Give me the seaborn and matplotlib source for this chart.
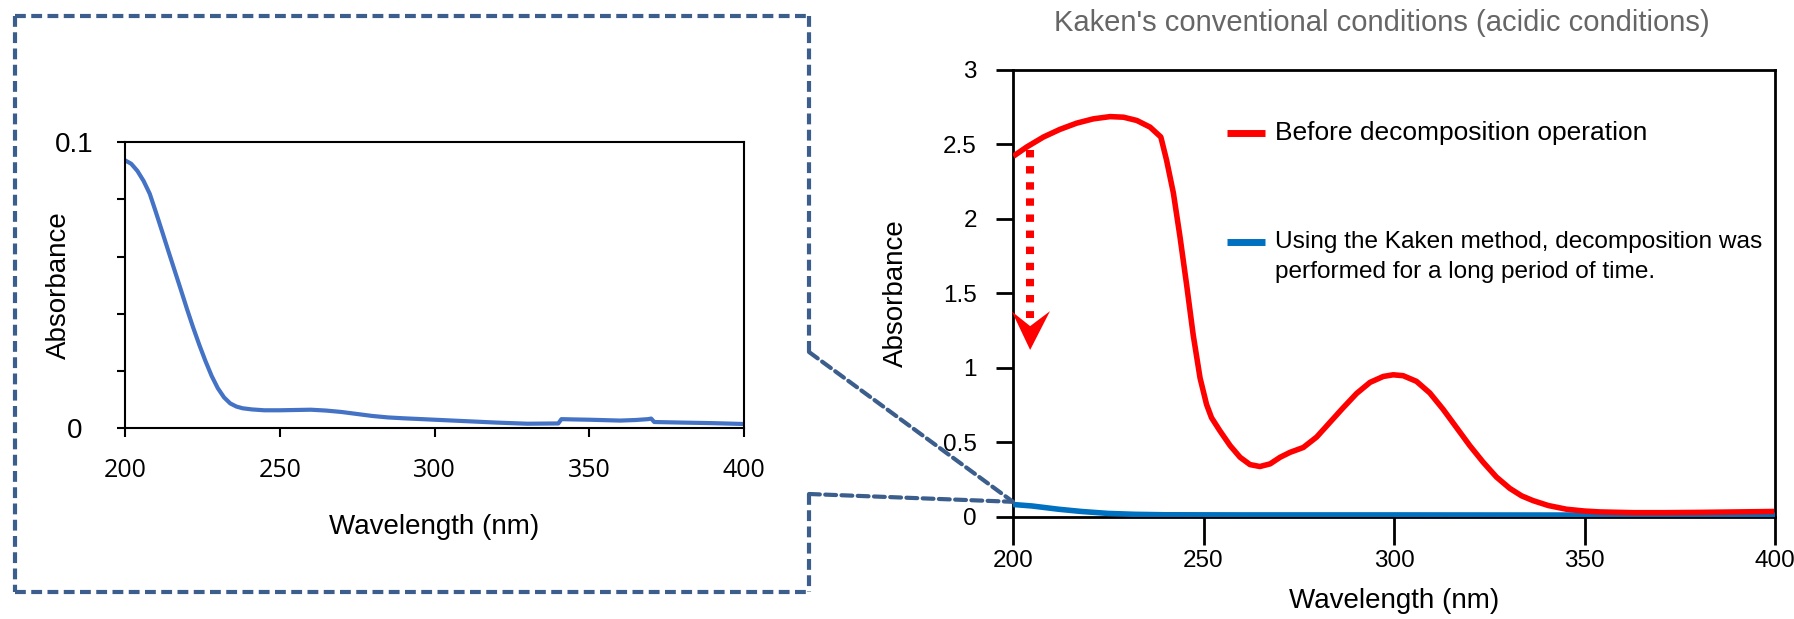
import numpy as np
import pandas as pd
import matplotlib
matplotlib.use("Agg")
import matplotlib.pyplot as plt
import seaborn as sns
from matplotlib.lines import Line2D
from matplotlib.patches import ConnectionPatch, Polygon

# ---------------- data ----------------
# inset (zoomed) spectrum after long decomposition
inset_wl = [200, 202, 204, 206, 208, 210, 212, 214, 216, 218, 220, 222, 224, 226,
            228, 230, 232, 234, 236, 238, 241, 245, 250, 255, 260, 265, 270, 275,
            280, 285, 290, 300, 310, 320, 330, 340, 341, 345, 350, 360, 365, 369,
            370, 371, 380, 390, 400]
inset_abs = [0.0937, 0.0925, 0.0900, 0.0865, 0.0820, 0.0755, 0.0688, 0.0620, 0.0553,
             0.0486, 0.0418, 0.0353, 0.0292, 0.0235, 0.0183, 0.0140, 0.0108, 0.0087,
             0.0076, 0.0070, 0.0066, 0.0063, 0.0063, 0.0064, 0.0065, 0.0062, 0.0057,
             0.0050, 0.0043, 0.0038, 0.0035, 0.0030, 0.0025, 0.0020, 0.0016, 0.0017,
             0.0032, 0.0031, 0.0030, 0.0027, 0.0029, 0.0032, 0.0034, 0.0022, 0.0020,
             0.0018, 0.0015]

# main chart: before decomposition (red)
before_wl = [200.1, 203.6, 208.0, 212.3, 216.7, 221.1, 225.5, 229.0, 232.5, 236.0,
             238.8, 240.3, 242.1, 243.8, 245.6, 247.3, 249.1, 250.8, 252.1, 254.3,
             257.0, 259.6, 262.2, 264.8, 267.5, 270.1, 272.7, 276.2, 279.7, 283.2,
             286.7, 290.2, 293.7, 297.2, 299.8, 302.4, 305.9, 309.4, 312.9, 316.4,
             319.9, 323.4, 326.9, 330.4, 333.5, 336.5, 340.5, 345.3, 350.0, 354.1,
             362.9, 371.0, 380.4, 390.0, 399.8]
before_abs = [2.421, 2.483, 2.550, 2.601, 2.643, 2.672, 2.687, 2.683, 2.661, 2.616,
              2.550, 2.395, 2.173, 1.885, 1.552, 1.220, 0.931, 0.754, 0.665, 0.577,
              0.477, 0.399, 0.350, 0.337, 0.355, 0.399, 0.432, 0.465, 0.535, 0.634,
              0.733, 0.828, 0.902, 0.942, 0.953, 0.947, 0.909, 0.831, 0.721, 0.599,
              0.477, 0.366, 0.266, 0.190, 0.140, 0.108, 0.075, 0.050, 0.038, 0.032,
              0.027, 0.027, 0.029, 0.032, 0.035]

# main chart: after long decomposition (blue)
after_wl = [200, 205, 212, 218, 225, 232, 240, 260, 300, 350, 400]
after_abs = [0.082, 0.072, 0.050, 0.035, 0.022, 0.016, 0.013, 0.012, 0.012, 0.011,
             0.010]

x_ticks = [200, 250, 300, 350, 400]
main_y_ticks = [0, 0.5, 1, 1.5, 2, 2.5, 3]
main_y_labels = ["0", "0.5", "1", "1.5", "2", "2.5", "3"]
inset_y_major = [0, 0.1]
inset_y_labels = ["0", "0.1"]
inset_y_minor = [0.02, 0.04, 0.06, 0.08]

title = "Kaken's conventional conditions (acidic conditions)"
label_before = "Before decomposition operation"
label_after_1 = "Using the Kaken method, decomposition was"
label_after_2 = "performed for a long period of time."
xlabel = "Wavelength (nm)"
ylabel = "Absorbance"

# arrow (data coords of main chart)
arrow_x = 204.5
arrow_y_start = 2.46
arrow_y_end = 1.333
arrow_head = [[199.7, 1.378], [204.5, 1.28], [209.7, 1.38], [204.5, 1.12]]

# ---------------- style ----------------
sns.set_theme(style="ticks")
plt.rcParams['font.family'] = ['Liberation Sans', 'DejaVu Sans']
plt.rcParams['text.color'] = 'black'
plt.rcParams['axes.labelcolor'] = 'black'
plt.rcParams['xtick.color'] = 'black'
plt.rcParams['ytick.color'] = 'black'
plt.rcParams['lines.solid_joinstyle'] = 'round'
plt.rcParams['lines.solid_capstyle'] = 'butt'

W, H = 1794, 619
fig = plt.figure(figsize=(W / 100, H / 100), dpi=100)
fig.patch.set_facecolor("white")

def fx(px):
    return px / W

def fy(py):
    return 1 - py / H

RED = "#FF0000"
BLUE_MAIN = "#0070C0"
BLUE_INSET = "#4472C4"
BOX = "#3B5E8C"

# ---------------- inset axes ----------------
AX1 = (125, 142.3, 744, 428.3)  # left, top, right, bottom in px
ax1 = fig.add_axes([fx(AX1[0]), fy(AX1[3]), fx(AX1[2]) - fx(AX1[0]), fy(AX1[1]) - fy(AX1[3])])
df1 = pd.DataFrame({"wl": inset_wl, "abs": inset_abs})
sns.lineplot(data=df1, x="wl", y="abs", ax=ax1, color=BLUE_INSET, lw=3.0)
ax1.set_xlim(200, 400)
ax1.set_ylim(0, 0.1)
ax1.set_facecolor("white")
for s in ax1.spines.values():
    s.set_linewidth(1.5)
    s.set_color("black")
ax1.set_xticks(x_ticks)
ax1.set_xticklabels([str(t) for t in x_ticks], fontsize=18, family=['Open Sans', 'DejaVu Sans'])
ax1.set_yticks(inset_y_major)
ax1.set_yticklabels(inset_y_labels, fontsize=20, ha="center")
ax1.set_yticks(inset_y_minor, minor=True)
ax1.tick_params(axis="x", direction="out", length=6.5, width=1.5, pad=15, color="black")
ax1.tick_params(axis="y", which="major", direction="out", length=6, width=1.5, pad=30.5, color="black")
ax1.tick_params(axis="y", which="minor", direction="out", length=6, width=1.5, color="black")
ax1.set_xlabel(xlabel, fontsize=20)
ax1.set_ylabel(ylabel, fontsize=20)
w1 = AX1[2] - AX1[0]
h1 = AX1[3] - AX1[1]
ax1.yaxis.set_label_coords((72 - AX1[0]) / w1, 0.5)
ax1.xaxis.set_label_coords(0.5, -(514 - AX1[3]) / h1)

# ---------------- main axes ----------------
AX2 = (1013, 70, 1775, 516.7)
ax2 = fig.add_axes([fx(AX2[0]), fy(AX2[3]), fx(AX2[2]) - fx(AX2[0]), fy(AX2[1]) - fy(AX2[3])])
df_b = pd.DataFrame({"wl": before_wl, "abs": before_abs})
df_a = pd.DataFrame({"wl": after_wl, "abs": after_abs})
sns.lineplot(data=df_a, x="wl", y="abs", ax=ax2, color=BLUE_MAIN, lw=4, zorder=3)
sns.lineplot(data=df_b, x="wl", y="abs", ax=ax2, color=RED, lw=4, zorder=4)
ax2.set_xlim(200, 400)
ax2.set_ylim(0, 3)
ax2.set_facecolor("white")
for s in ax2.spines.values():
    s.set_linewidth(2)
    s.set_color("black")
ax2.set_xticks(x_ticks)
ax2.set_xticklabels([str(t) for t in x_ticks], fontsize=17.5)
ax2.set_yticks(main_y_ticks)
ax2.set_yticklabels(main_y_labels, fontsize=17.5)
ax2.tick_params(axis="x", direction="out", length=20, width=2, pad=4, color="black")
ax2.tick_params(axis="y", direction="out", length=12, width=2, pad=14, color="black")
ax2.set_xlabel(xlabel, fontsize=20)
ax2.set_ylabel(ylabel, fontsize=20)
w2 = AX2[2] - AX2[0]
h2 = AX2[3] - AX2[1]
ax2.xaxis.set_label_coords(0.5, -(588 - AX2[3]) / h2)
ax2.yaxis.set_label_coords((909 - AX2[0]) / w2, 0.5)

# dotted red arrow
ax2.plot([arrow_x, arrow_x], [arrow_y_start, arrow_y_end], color=RED, lw=5.8,
         linestyle=(0, (0.92, 1.08)), dash_capstyle="butt", solid_capstyle="butt", zorder=5)
head = Polygon(arrow_head, closed=True, facecolor=RED, edgecolor="none", zorder=5, clip_on=False)
ax2.add_patch(head)

# legend (manual)
def ay(py):
    return (AX2[3] - py) / h2

def ax_(px):
    return (px - AX2[0]) / w2

ax2.plot([ax_(1227), ax_(1265)], [ay(133), ay(133)], transform=ax2.transAxes, color=RED, lw=5,
         solid_capstyle="butt")
ax2.text(ax_(1275), ay(133), label_before, transform=ax2.transAxes, fontsize=19,
         va="center", ha="left", color="black")
ax2.plot([ax_(1227), ax_(1265)], [ay(242), ay(242)], transform=ax2.transAxes, color=BLUE_MAIN, lw=5,
         solid_capstyle="butt")
ax2.text(ax_(1275), ay(242), label_after_1, transform=ax2.transAxes, fontsize=17.6,
         va="center", ha="left", color="black")
ax2.text(ax_(1275), ay(272), label_after_2, transform=ax2.transAxes, fontsize=17.6,
         va="center", ha="left", color="black")

# title
fig.text(fx(1382), fy(23), title, fontsize=21, color="#666666", ha="center", va="center")

# ---------------- dashed box and connectors ----------------
dash = (0, (2.6, 1.3))
lw_box = 3.0
x0, x1, y0, y1 = 15, 809, 16, 592
segs = [((x0, y0), (x1, y0)), ((x0, y0), (x0, y1)), ((x0, y1), (x1, y1)),
        ((x1, y0), (x1, 352)), ((x1, 494), (x1, y1))]
for (a, b) in segs:
    fig.add_artist(Line2D([fx(a[0]), fx(b[0])], [fy(a[1]), fy(b[1])],
                          transform=fig.transFigure, color=BOX, lw=lw_box, linestyle=dash))
for py in (352, 494):
    con = ConnectionPatch(xyA=(fx(x1), fy(py)), coordsA=fig.transFigure,
                          xyB=(200, 0.1), coordsB=ax2.transData,
                          color=BOX, lw=lw_box, linestyle=dash, zorder=6)
    fig.add_artist(con)

fig.savefig("out.png", dpi=100, facecolor="white")
